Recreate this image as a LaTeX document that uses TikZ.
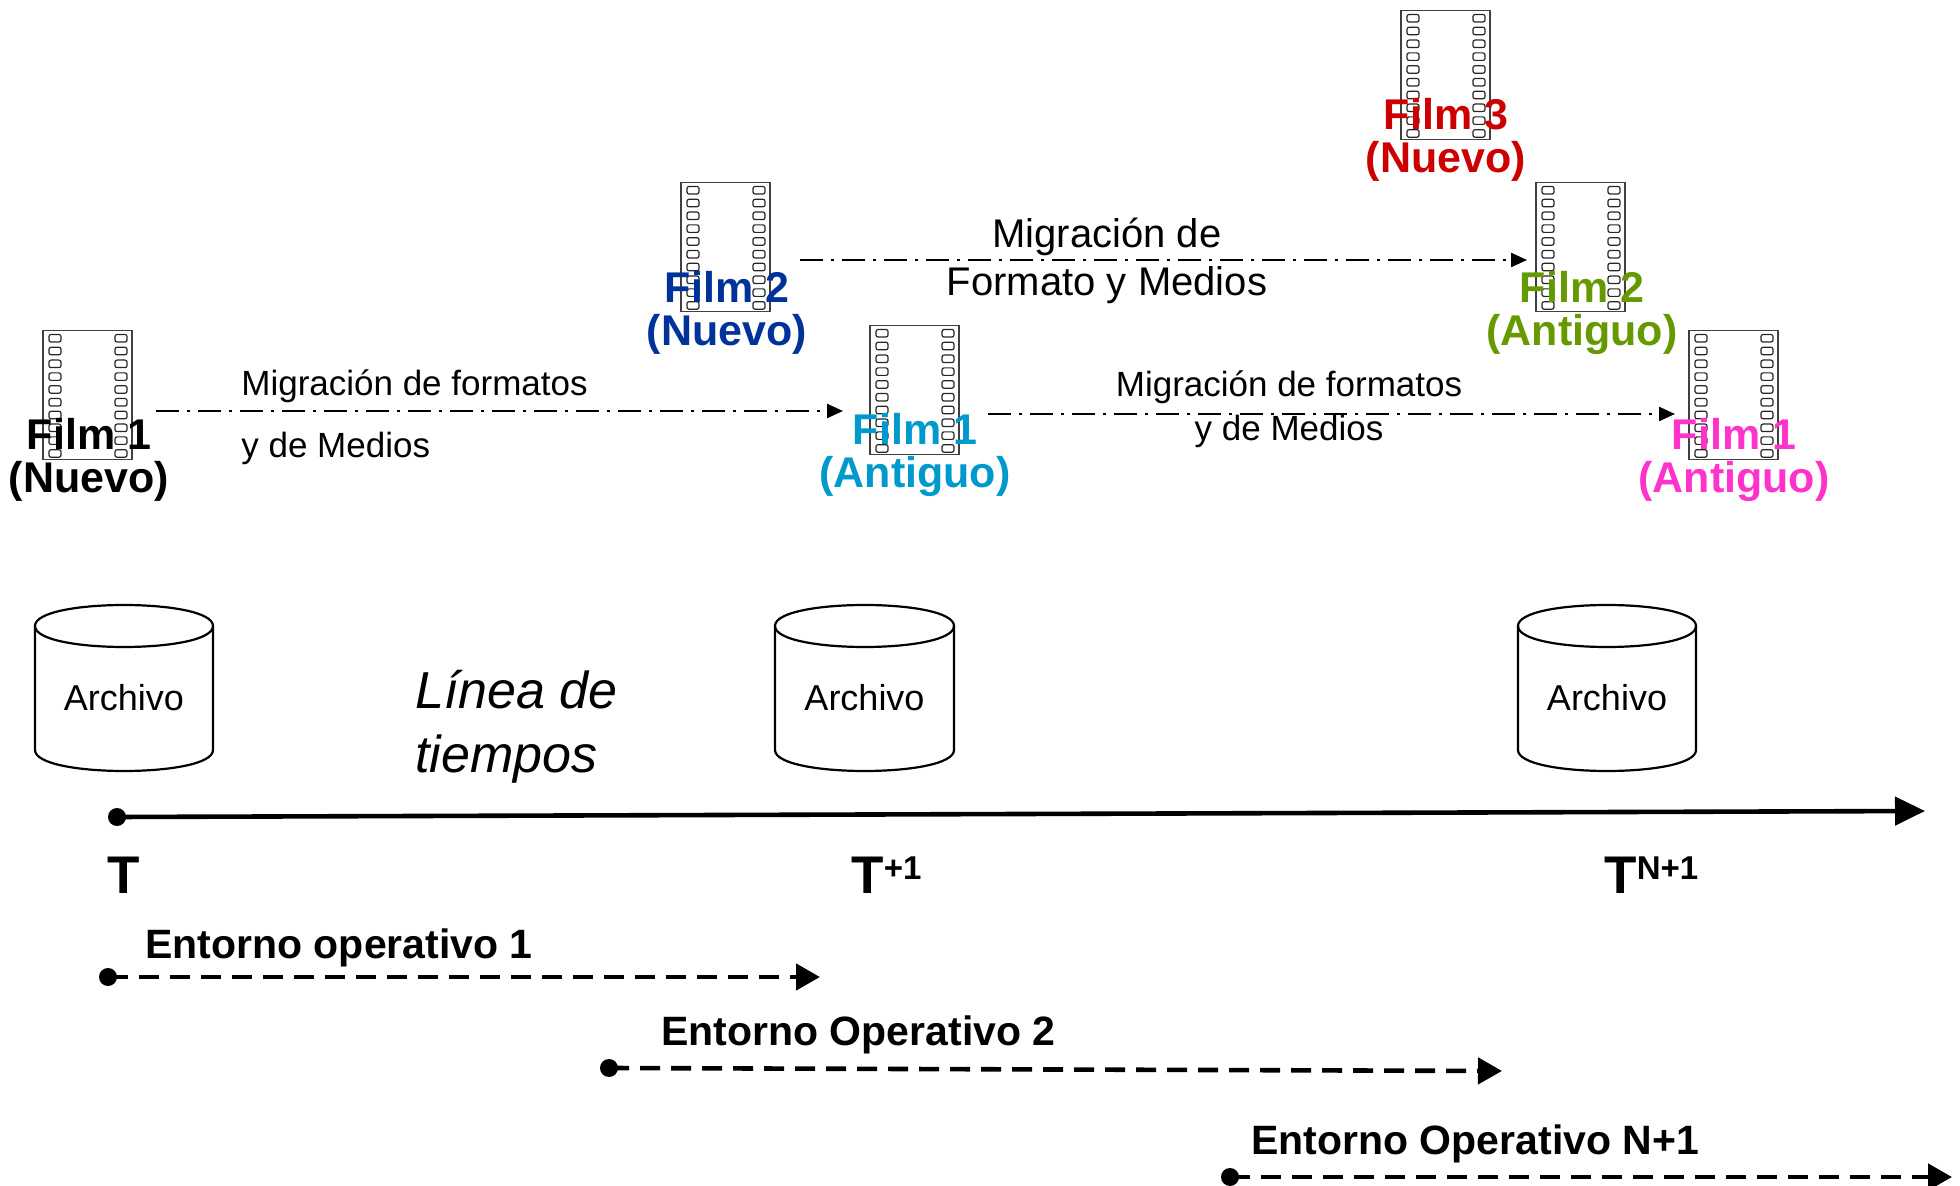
\documentclass[tikz,border=0pt]{standalone}
\usepackage{fontspec}
\setmainfont{Liberation Sans}
\usetikzlibrary{arrows.meta,calc}
\newcommand{\fsz}[1]{\fontsize{#1}{#1}\selectfont}
\definecolor{cblue}{HTML}{003399}
\definecolor{ccyan}{HTML}{0099CC}
\definecolor{cred}{HTML}{CC0000}
\definecolor{cgreen}{HTML}{669900}
\definecolor{cpink}{HTML}{FF33CC}
\tikzset{
  filmbox/.style={draw=black!75,line width=0.6pt,minimum width=44.5pt,minimum height=64.5pt,inner sep=0pt,outer sep=0pt},
  filmhole/.style={draw=black!85,line width=0.6pt,rounded corners=1pt},
  filmlabel/.style={font=\fsz{21.5}\bfseries,align=center,text depth=0pt,inner sep=0pt},
  cyl/.style={draw=black,line width=1.1pt},
  cyltext/.style={font=\fsz{18},inner sep=0pt},
  mig/.style={line width=1.2pt,dash pattern=on 11.5pt off 4pt on 1.5pt off 4pt,-{Triangle[length=8pt,width=7pt]}},
  migtext/.style={font=\fsz{17.5},inner sep=0pt},
  migbig/.style={font=\fsz{20},align=center,inner sep=0pt},
  axisline/.style={line width=2.3pt,-{Triangle[length=15pt,width=14pt]}},
  envline/.style={line width=2.3pt,dash pattern=on 10pt off 5.5pt,-{Triangle[length=12pt,width=13pt]}},
  startdot/.style={circle,fill=black,minimum size=9pt,inner sep=0pt},
  tlabel/.style={font=\fsz{26.5}\bfseries,anchor=base west,inner sep=0pt},
  envlabel/.style={font=\fsz{20.5}\bfseries,anchor=base west,inner sep=0pt},
  timelabel/.style={font=\fsz{26}\itshape,anchor=base west,inner sep=0pt}
}
% name, centre x, centre y
\newcommand{\filmstrip}[3]{%
  \node[filmbox] (#1) at (#2,#3) {};
  \foreach \k in {0,...,9}{%
    \draw[filmhole] ($(#1.north west)+(6,4+12.8*\k)$) rectangle ++(12,7.5);
    \draw[filmhole] ($(#1.north east)+(-17,4+12.8*\k)$) rectangle ++(12,7.5);
  }%
}
% name, left x, right x
\newcommand{\archive}[3]{%
  \draw[cyl] (#2,626) -- (#2,750) .. controls (#2,778) and (#3,778) .. (#3,750) -- (#3,626);
  \draw[cyl] (#2,626) .. controls (#2,598) and (#3,598) .. (#3,626) .. controls (#3,654) and (#2,654) .. (#2,626) -- cycle;
  \node[cyltext] (#1) at ({(#2+#3)/2},698) {Archivo};
}
\begin{document}
\begin{tikzpicture}[x=0.5pt,y=-0.5pt]
\useasboundingbox (0,0) rectangle (1960,1186);
% film strips
\filmstrip{fa}{87.5}{395}
\filmstrip{fb}{725.5}{247}
\filmstrip{fc}{914.5}{390}
\filmstrip{fd}{1445.5}{75}
\filmstrip{fe}{1580.5}{247}
\filmstrip{ff}{1733.5}{395}
% film labels
\node[filmlabel,text=black] (la) at (89,455) {Film 1\\(Nuevo)};
\node[filmlabel,text=cblue] (lb) at (727,308) {Film 2\\(Nuevo)};
\node[filmlabel,text=ccyan] (lc) at (915,450) {Film 1\\(Antiguo)};
\node[filmlabel,text=cred] (ld) at (1446,135) {Film 3\\(Nuevo)};
\node[filmlabel,text=cgreen] (le) at (1582,308) {Film 2\\(Antiguo)};
\node[filmlabel,text=cpink] (lf) at (1734,455) {Film 1\\(Antiguo)};
% migration connectors
\draw[mig] ([shift={(24,16)}]fa.east) -- ([shift={(-27,21)}]fc.west);
\draw[mig] ([shift={(29,24)}]fc.east) -- ([shift={(-14,19)}]ff.west);
\draw[mig] ([shift={(30,13)}]fb.east) -- ([shift={(-9,13)}]fe.west);
% migration labels
\node[migtext,anchor=base west] (m1) at (241,396) {Migración de formatos};
\node[migtext,anchor=base west] (m2) at (241,458) {y de Medios};
\node[migtext,anchor=base] (m3) at (1289,397) {Migración de formatos};
\node[migtext,anchor=base] (m4) at (1289,441) {y de Medios};
\node[migbig,anchor=base] (m5) at (1107,248) {Migración de};
\node[migbig,anchor=base] (m6) at (1107,296) {Formato y Medios};
% archives
\archive{ca}{35}{213}
\archive{cb}{775}{954}
\archive{cc}{1518}{1696}
\node[timelabel] (tl1) at (415,709) {Línea de};
\node[timelabel] (tl2) at (415,773) {tiempos};
% time axis
\node[startdot] (d0) at (117,817) {};
\coordinate (axisend) at (1925,811);
\draw[axisline] (d0.center) -- (axisend);
\node[tlabel] (t0) at (107,893) {T};
\node[tlabel] (t1) at (851,893) {T\raisebox{7pt}{\fsz{16.5}+1}};
\node[tlabel] (t2) at (1604,893) {T\raisebox{7pt}{\fsz{16.5}N+1}};
% environments
\node[envlabel] (e1) at (145,958) {Entorno operativo 1};
\node[startdot] (d1) at (108,977) {};
\coordinate (e1end) at (820,977);
\draw[envline] (d1.center) -- (e1end);
\node[envlabel] (e2) at (661,1045) {Entorno Operativo 2};
\node[startdot] (d2) at (609,1068) {};
\coordinate (e2end) at (1502,1071);
\draw[envline] (d2.center) -- (e2end);
\node[envlabel] (e3) at (1251,1154) {Entorno Operativo N+1};
\node[startdot] (d3) at (1230,1177) {};
\coordinate (e3end) at (1952,1177);
\draw[envline] (d3.center) -- (e3end);
\end{tikzpicture}
\end{document}
